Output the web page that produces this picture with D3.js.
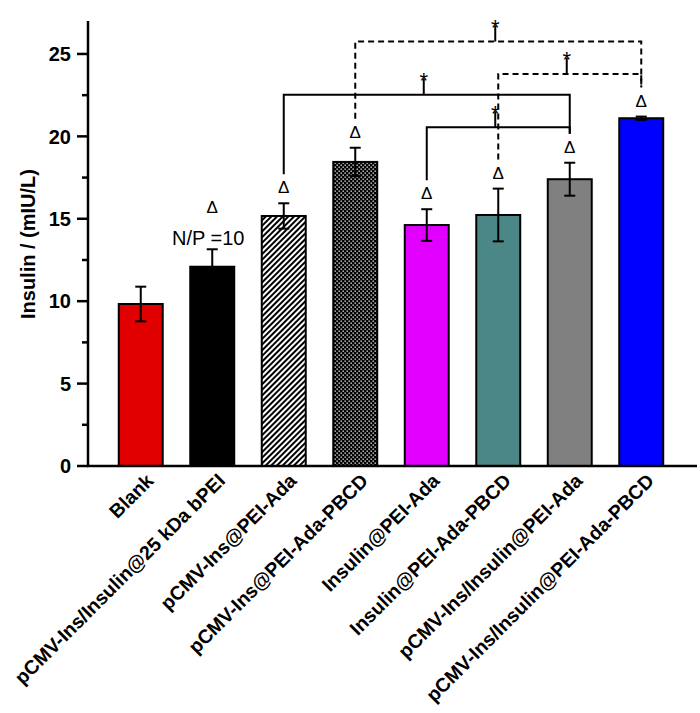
<!DOCTYPE html>
<html>
<head>
<meta charset="utf-8">
<script src="https://cdn.jsdelivr.net/npm/d3@7"></script>
<style>
  body { margin: 0; background: #fff; }
  text { font-family: "Liberation Sans", Arial, sans-serif; }
</style>
</head>
<body>
<div class="chart"></div>
<script>
// data
var groups = ["Blank", "pCMV-Ins/Insulin@25 kDa bPEI", "pCMV-Ins@PEI-Ada", "pCMV-Ins@PEI-Ada-PBCD",
    "Insulin@PEI-Ada", "Insulin@PEI-Ada-PBCD", "pCMV-Ins/Insulin@PEI-Ada", "pCMV-Ins/Insulin@PEI-Ada-PBCD"];
var means = [9.83, 12.09, 15.17, 18.45, 14.62, 15.23, 17.4, 21.1];
var errors = [1.05, 1.06, 0.77, 0.86, 0.96, 1.6, 1.0, 0.1];
var fills = ["#e00000", "#000000", "url(#hatch)", "url(#dots)", "#e100ff", "#4b8786", "#808080", "#0000ff"];
var deltaMark = [false, true, true, true, true, true, true, true];
var yTicks = [0, 5, 10, 15, 20, 25];
var yMinorTicks = [2.5, 7.5, 12.5, 17.5, 22.5];

// significance brackets: from bar, to bar, level (mIU/L), dashed?
var brackets = [
    {from: 3, to: 7, level: 25.75, dashed: true},
    {from: 5, to: 7, level: 23.79, dashed: true},
    {from: 2, to: 6, level: 22.53, dashed: false},
    {from: 4, to: 6, level: 20.55, dashed: false}
];

var svgWidth = 700;
var svgHeight = 713;

var svg = d3.select(".chart").append("svg")
    .attr("width", svgWidth)
    .attr("height", svgHeight);

// fill patterns
var defs = svg.append("defs");
var hatch = defs.append("pattern")
    .attr("id", "hatch")
    .attr("patternUnits", "userSpaceOnUse")
    .attr("width", 4).attr("height", 4)
    .attr("patternTransform", "rotate(45)");
hatch.append("rect").attr("width", 4).attr("height", 4).attr("fill", "#fff");
hatch.append("rect").attr("width", 2).attr("height", 4).attr("fill", "#000");

var dots = defs.append("pattern")
    .attr("id", "dots")
    .attr("patternUnits", "userSpaceOnUse")
    .attr("width", 4).attr("height", 4);
dots.append("rect").attr("width", 4).attr("height", 4).attr("fill", "#000");
dots.append("rect").attr("x", 0.5).attr("y", 0.5).attr("width", 1.3).attr("height", 1.3).attr("fill", "#fff");
dots.append("rect").attr("x", 2.5).attr("y", 2.5).attr("width", 1.3).attr("height", 1.3).attr("fill", "#fff");

var xScale = d3.scaleBand()
    .domain(groups)
    .range([105, 677])
    .paddingInner(0.385)
    .paddingOuter(0.1925);

var yScale = d3.scaleLinear()
    .domain([0, 27])
    .range([466, 21]);

var axisX = 88;

// bars
svg.selectAll("rect.bar")
    .data(groups)
    .enter()
    .append("rect")
    .attr("class", "bar")
    .attr("x", d => xScale(d))
    .attr("width", xScale.bandwidth())
    .attr("y", (d, i) => yScale(means[i]))
    .attr("height", (d, i) => yScale(0) - yScale(means[i]))
    .attr("fill", (d, i) => fills[i])
    .attr("stroke", "#000")
    .attr("stroke-width", 2);

// error bars
var errG = svg.append("g").attr("stroke", "#000").attr("stroke-width", 2);
groups.forEach(function(g, i) {
    var cx = xScale(g) + xScale.bandwidth() / 2;
    var top = yScale(means[i] + errors[i]);
    var bot = yScale(means[i] - errors[i]);
    errG.append("line").attr("x1", cx).attr("x2", cx).attr("y1", top).attr("y2", bot);
    errG.append("line").attr("x1", cx - 5.5).attr("x2", cx + 5.5).attr("y1", top).attr("y2", top);
    errG.append("line").attr("x1", cx - 5.5).attr("x2", cx + 5.5).attr("y1", bot).attr("y2", bot);
});

// delta marks
function deltaY(i) {
    var top = yScale(means[i] + errors[i]);
    return i === 1 ? top - 42 : top - 16;
}
groups.forEach(function(g, i) {
    if (!deltaMark[i]) return;
    svg.append("text")
        .attr("x", xScale(g) + xScale.bandwidth() / 2)
        .attr("y", deltaY(i) + 6)
        .attr("text-anchor", "middle")
        .style("font-size", "17px")
        .text("\u0394");
});

svg.append("text")
    .attr("x", xScale(groups[1]) + xScale.bandwidth() / 2 - 4)
    .attr("y", yScale(means[1] + errors[1]) - 4)
    .attr("text-anchor", "middle")
    .style("font-size", "20px")
    .text("N/P =10");

// brackets
var brG = svg.append("g").attr("fill", "none").attr("stroke", "#000").attr("stroke-width", 2);
brackets.forEach(function(b) {
    var x1 = xScale(groups[b.from]) + xScale.bandwidth() / 2;
    var x2 = xScale(groups[b.to]) + xScale.bandwidth() / 2;
    var y = yScale(b.level);
    var p = brG.append("path")
        .attr("d", `M${x1},${deltaY(b.from) - 13}V${y}H${x2}V${deltaY(b.to) - 13}`);
    if (b.dashed) p.attr("stroke-dasharray", "6,4");
    var mx = (x1 + x2) / 2 - 3;
    brG.append("line").attr("x1", mx).attr("x2", mx).attr("y1", y).attr("y2", y - 16);
    svg.append("text")
        .attr("x", mx)
        .attr("y", y - 16 + 9.5)
        .attr("text-anchor", "middle")
        .style("font-size", "22px")
        .text("*");
});

// y axis
svg.append("line")
    .attr("x1", axisX).attr("x2", axisX)
    .attr("y1", yScale(27)).attr("y2", yScale(0))
    .attr("stroke", "#000").attr("stroke-width", 2.5);
svg.selectAll("line.ymaj")
    .data(yTicks).enter().append("line")
    .attr("x1", axisX - 11).attr("x2", axisX)
    .attr("y1", d => yScale(d)).attr("y2", d => yScale(d))
    .attr("stroke", "#000").attr("stroke-width", 2.5);
svg.selectAll("line.ymin")
    .data(yMinorTicks).enter().append("line")
    .attr("x1", axisX - 6).attr("x2", axisX)
    .attr("y1", d => yScale(d)).attr("y2", d => yScale(d))
    .attr("stroke", "#000").attr("stroke-width", 2.5);
svg.selectAll("text.ytick")
    .data(yTicks).enter().append("text")
    .attr("x", 71)
    .attr("y", d => yScale(d))
    .attr("dy", "0.36em")
    .attr("text-anchor", "end")
    .style("font-size", "20px")
    .style("font-weight", "bold")
    .text(d => d);

svg.append("text")
    .attr("transform", "translate(35,244) rotate(-90)")
    .attr("text-anchor", "middle")
    .style("font-size", "20px")
    .style("font-weight", "bold")
    .text("Insulin / (mIU/L)");

// x axis
svg.append("line")
    .attr("x1", axisX - 1).attr("x2", 697)
    .attr("y1", yScale(0)).attr("y2", yScale(0))
    .attr("stroke", "#000").attr("stroke-width", 2.5);

svg.selectAll("text.xlab")
    .data(groups).enter().append("text")
    .attr("transform", d => `translate(${xScale(d) + xScale.bandwidth() / 2 + 14},482) rotate(-45)`)
    .attr("text-anchor", "end")
    .style("font-size", "19.5px")
    .style("font-weight", "bold")
    .text(d => d);
</script>
</body>
</html>
